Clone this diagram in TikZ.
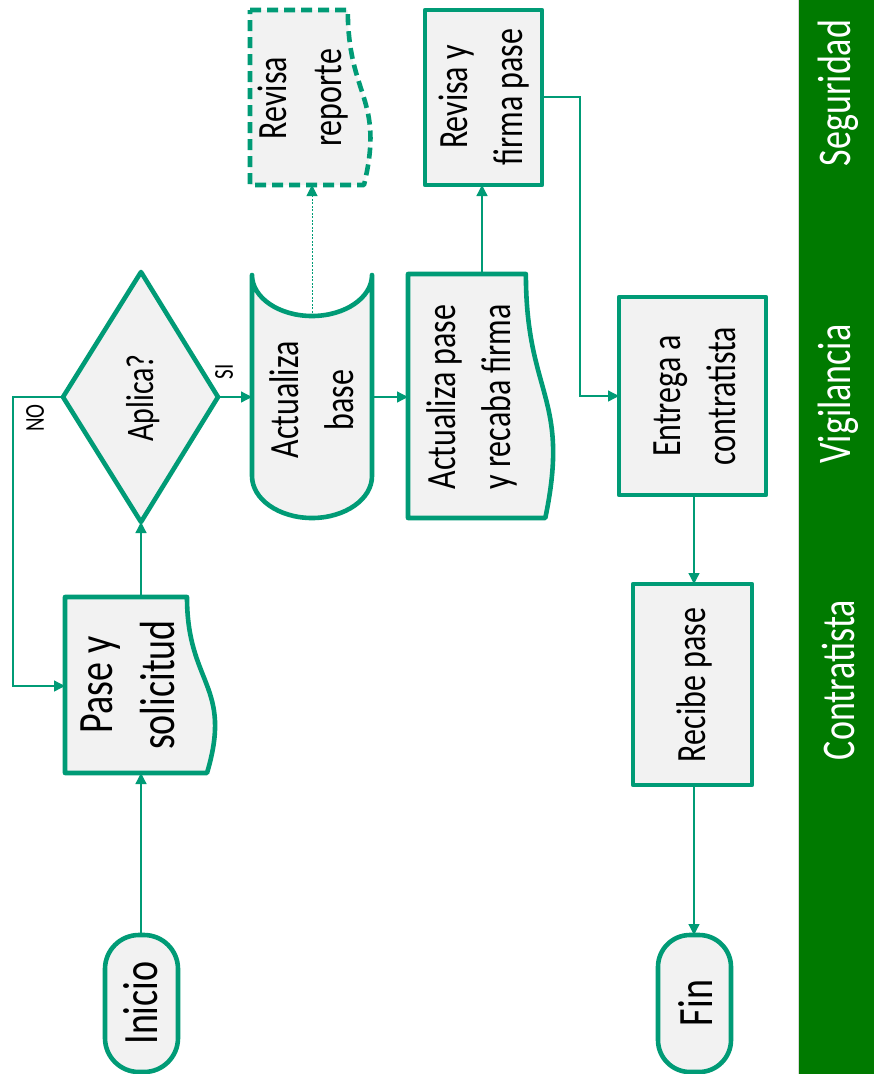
\documentclass[tikz,border=0pt]{standalone}
\usepackage{fontspec}
\setmainfont{Carlito}
\usetikzlibrary{arrows.meta}
\definecolor{teal1}{RGB}{0,155,118}
\definecolor{bandgreen}{RGB}{0,122,0}
\definecolor{boxfill}{RGB}{242,242,242}
\begin{document}
\begin{tikzpicture}[x=1pt,y=-1pt,
  shapeline/.style={draw=teal1, line width=4.6pt, fill=boxfill, line join=round},
  dashshape/.style={shapeline, dash pattern=on 11pt off 6pt},
  conn/.style={draw=teal1, line width=1.3pt, -{Triangle[length=11pt,width=11pt]}},
  dotconn/.style={conn, line width=1pt, dash pattern=on 2pt off 1.5pt},
  vtext/.style={rotate=90, yscale=1.3, align=center, inner sep=0pt, text=black},
  fbig/.style={font=\fontsize{38}{48}\selectfont},
  fmid/.style={font=\fontsize{32}{42}\selectfont},
  fsmall/.style={font=\fontsize{21}{25}\selectfont},
  bandtext/.style={rotate=90, yscale=1.3, inner sep=0pt, text=white, font=\fontsize{36}{40}\selectfont}]
\useasboundingbox (0,0) rectangle (874,1074);
\fill[white] (0,0) rectangle (874,1074);
% lane band
\fill[bandgreen] (799,0) rectangle (874,1074);
\draw[black!15, line width=1pt] (798,0) -- (798,1074);
\node[bandtext] (seg) at (838,93) {Seguridad};
\node[bandtext] (vig) at (838,394) {Vigilancia};
\node[bandtext] (con) at (838,680) {Contratista};

% Inicio
\draw[shapeline, rounded corners=34pt] (105,935) rectangle (178,1072);
\node[vtext, fbig] (inicio) at (141,1003) {Inicio};
\coordinate (inicio-n) at (141,935);

% Pase y solicitud (document)
\draw[shapeline] (65,597) -- (187,597) .. controls (187,685) and (233.3,685) .. (207,773) -- (65,773) -- cycle;
\node[vtext, fbig] (pase) at (128,685) {Pase y\\solicitud};
\coordinate (pase-n) at (141,597);
\coordinate (pase-s) at (141,773);
\coordinate (pase-w) at (65,686);

% Aplica? diamond
\draw[shapeline] (141,272) -- (218,397) -- (141,522) -- (63,397) -- cycle;
\node[vtext, font=\fontsize{30}{36}\selectfont] (aplica) at (143,398) {Aplica?};
\coordinate (dia-s) at (141,522);
\coordinate (dia-w) at (63,397);
\coordinate (dia-e) at (218,397);
\coordinate (no-a) at (13,397);
\coordinate (no-b) at (13,686);
\node[vtext, fsmall] (nolab) at (35,418) {NO};
\node[vtext, fsmall] (silab) at (224,372) {SI};

% Actualiza base (cylinder)
\draw[shapeline] (252,275) -- (252,476) .. controls (252,499.2) and (278.9,518) .. (312,518)
  .. controls (345.1,518) and (372,499.2) .. (372,476) -- (372,275)
  .. controls (372,297.6) and (345.1,316) .. (312,316)
  .. controls (278.9,316) and (252,297.6) .. (252,275) -- cycle;
\node[vtext, fmid] (base) at (312,400) {Actualiza\\base};
\coordinate (cyl-w) at (252,397);
\coordinate (cyl-e) at (372,397);
\coordinate (cyl-n) at (312,316);

% Revisa reporte (dashed document)
\draw[dashshape] (250,10) -- (347.8,10) .. controls (347.8,97.5) and (385.1,97.5) .. (364,185) -- (250,185) -- cycle;
\node[vtext, fmid] (reporte) at (303,98) {Revisa\\reporte};
\coordinate (rep-s) at (312,185);

% Actualiza pase y recaba firma (document)
\draw[shapeline] (408,274) -- (525.9,274) .. controls (525.9,396) and (570.8,396) .. (545.3,518) -- (408,518) -- cycle;
\node[vtext, fmid] (actpase) at (472,397) {Actualiza pase\\y recaba firma};
\coordinate (act-w) at (408,397);
\coordinate (act-n) at (482,274);

% Revisa y firma pase
\draw[shapeline] (425,10) rectangle (542,185);
\node[vtext, fmid] (firma) at (484,97) {Revisa y\\firma pase};
\coordinate (fir-s) at (482,185);
\coordinate (fir-e) at (542,97);
\coordinate (fir-a) at (580,97);
\coordinate (fir-b) at (580,396);

% Entrega a contratista
\draw[shapeline] (619,297) rectangle (766,495);
\node[vtext, fmid] (entrega) at (695,396) {Entrega a\\contratista};
\coordinate (ent-w) at (619,396);
\coordinate (ent-s) at (694,495);

% Recibe pase
\draw[shapeline] (633,584) rectangle (752,785);
\node[vtext, fmid] (recibe) at (694,685) {Recibe pase};
\coordinate (rec-n) at (694,584);
\coordinate (rec-s) at (694,785);

% Fin
\draw[shapeline, rounded corners=32pt] (658,935) rectangle (731,1072);
\node[vtext, fbig] (fin) at (695,1003) {Fin};
\coordinate (fin-n) at (694,935);

% connectors
\draw[conn] (inicio-n) -- (pase-s);
\draw[conn] (pase-n) -- (dia-s);
\draw[conn] (dia-w) -- (no-a) -- (no-b) -- (pase-w);
\draw[conn] (dia-e) -- (cyl-w);
\draw[dotconn] (cyl-n) -- (rep-s);
\draw[conn] (cyl-e) -- (act-w);
\draw[conn] (act-n) -- (fir-s);
\draw[conn] (fir-e) -- (fir-a) -- (fir-b) -- (ent-w);
\draw[conn] (ent-s) -- (rec-n);
\draw[conn] (rec-s) -- (fin-n);
\end{tikzpicture}
\end{document}
